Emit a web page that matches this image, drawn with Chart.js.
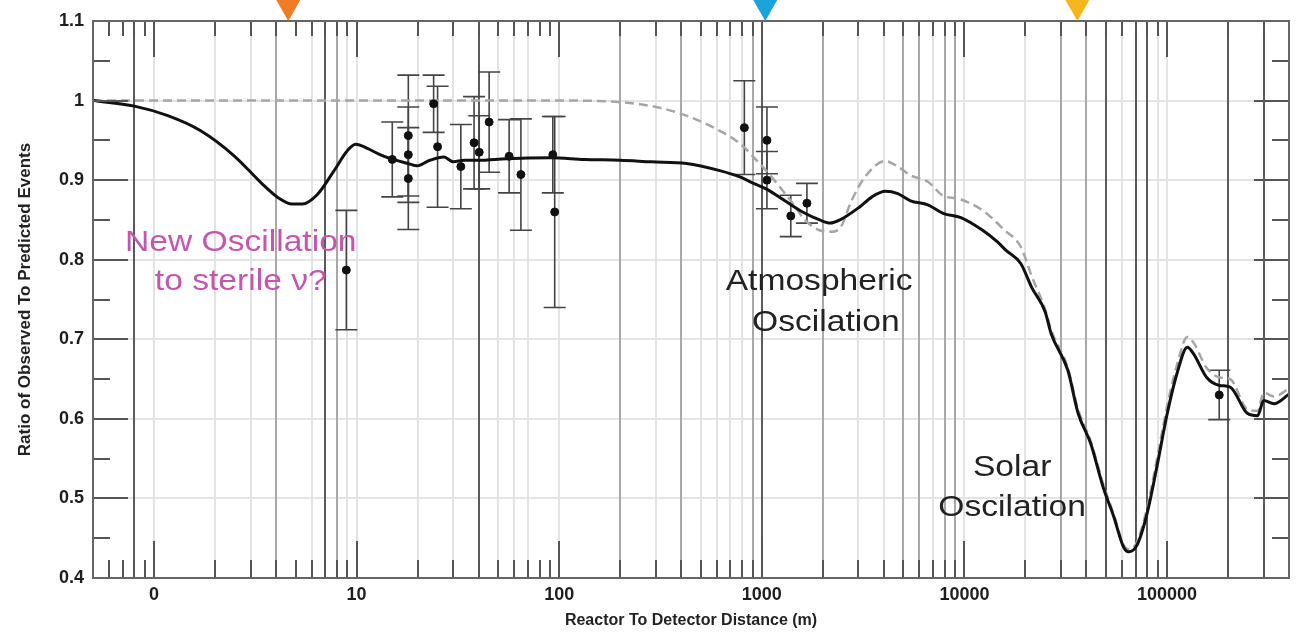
<!DOCTYPE html>
<html>
<head>
<meta charset="utf-8">
<script src="https://cdn.jsdelivr.net/npm/chart.js@4.4.1/dist/chart.umd.min.js"></script>
<style>
  html, body { margin: 0; padding: 0; background: #fff; }
  #wrap { width: 1297px; height: 635px; }
</style>
</head>
<body>
<div id="wrap"><canvas id="chart" width="1297" height="635"></canvas></div>
<script>
// --- Axis labels ---
const xTickValues = [1, 10, 100, 1000, 10000, 100000];
const xTickLabels = ['0', '10', '100', '1000', '10000', '100000'];
const yTickValues = [0.4, 0.5, 0.6, 0.7, 0.8, 0.9, 1.0, 1.1];
const yTickLabels = ['0.4', '0.5', '0.6', '0.7', '0.8', '0.9', '1', '1.1'];

// --- Solid curve (with sterile oscillation) ---
const fitDist = [0.5, 0.8, 1.17, 1.7, 2.5, 3.4, 4.1, 4.8, 5.4, 6.4, 7.7, 9.0, 9.9, 11.3, 12.8, 14.7, 17.9, 19.9,
  23, 27, 30, 34, 40, 55, 91, 133, 200, 285, 425, 620, 780, 910, 1050, 1300, 1590, 1930, 2170, 2430, 3030,
  3500, 4070, 4690, 5420, 6600, 7900, 9600, 12300, 14600, 16000, 19000, 21500, 25000, 26800, 32400, 36400,
  42000, 48400, 54600, 61000, 64700, 71000, 79700, 89000, 100300, 112000, 126000, 135000, 157000, 182000,
  205000, 249000, 280000, 300000, 337000, 400000];
const fitRatio = [1.0, 0.993, 0.981, 0.962, 0.930, 0.896, 0.878, 0.870, 0.870, 0.882, 0.911, 0.937, 0.945, 0.940, 0.933, 0.927, 0.921, 0.918,
  0.925, 0.929, 0.923, 0.925, 0.925, 0.927, 0.928, 0.926, 0.925, 0.923, 0.921, 0.912, 0.904, 0.896, 0.889, 0.874, 0.860, 0.850, 0.846, 0.850, 0.866,
  0.879, 0.886, 0.883, 0.874, 0.869, 0.858, 0.853, 0.837, 0.822, 0.812, 0.795, 0.765, 0.735, 0.707, 0.661, 0.607,
  0.569, 0.514, 0.477, 0.439, 0.433, 0.441, 0.481, 0.539, 0.607, 0.657, 0.690, 0.682, 0.652, 0.642,
  0.640, 0.607, 0.604, 0.623, 0.619, 0.631];

// --- Dashed curve (three flavours only) ---
const stdDist = [0.5, 10, 100, 200, 300, 425, 620, 780, 910, 1050, 1230, 1420, 1630, 1930, 2170, 2450, 2770, 3230,
  4070, 4690, 5420, 6600, 7900, 9200, 12300, 15800, 19000, 21500, 25000, 26800, 32400, 36400, 42000, 48400,
  54600, 61000, 64700, 71000, 79700, 89000, 100300, 112000, 126000, 135000, 157000, 182000, 205000, 249000,
  280000, 300000, 337000, 400000];
const stdRatio = [1.0, 1.0, 1.0, 0.998, 0.992, 0.981, 0.962, 0.946, 0.929, 0.912, 0.891, 0.871, 0.850, 0.837, 0.835, 0.841, 0.874, 0.904,
  0.924, 0.917, 0.906, 0.898, 0.880, 0.877, 0.862, 0.837, 0.816, 0.779, 0.738, 0.712, 0.664, 0.612, 0.572, 0.518,
  0.480, 0.442, 0.436, 0.445, 0.488, 0.548, 0.617, 0.668, 0.703, 0.696, 0.664, 0.652, 0.650, 0.612,
  0.610, 0.633, 0.628, 0.638];

// --- Reactor measurements ---
const obsDist = [8.9, 15.0, 18.0, 18.0, 18.0, 24.0, 25.1, 32.7, 38.0, 40.3, 45.1, 56.6, 64.7, 93, 95, 820, 1060, 1060, 1390, 1670, 181000];
const obsRatio = [0.787, 0.926, 0.956, 0.932, 0.902, 0.996, 0.942, 0.917, 0.947, 0.935, 0.973, 0.930, 0.907, 0.932, 0.860, 0.966, 0.950, 0.900, 0.855, 0.871, 0.630];
const obsErr = [0.075, 0.047, 0.076, 0.060, 0.064, 0.036, 0.076, 0.053, 0.058, 0.046, 0.063, 0.046, 0.070, 0.048, 0.120, 0.059, 0.042, 0.036, 0.026, 0.025, 0.031];

// --- Vertical distance lines (three shades) ---
const darkLines = [0.8, 7, 40, 1000, 50000, 70000, 80000, 200000, 300000];
const midLines = [4, 8, 200, 400, 900, 2000, 5000, 6000, 8000, 9000, 30000, 40000];
const lightLines = [1, 2, 3, 6, 9, 10, 20, 30, 50, 60, 70, 100, 300, 500, 600, 700, 800, 3000, 4000, 7000, 10000,
  20000, 60000, 90000, 100000];

// --- Coloured arrows on top edge ---
const markerDist = [4.6, 1040, 36100];
const markerColor = ['#f07c24', '#1ca3dc', '#f6b61d'];

// --- Text notes ---
const noteText = ['New Oscillation', 'to sterile ν?', 'Atmospheric', 'Oscilation', 'Solar', 'Oscilation'];
const noteDist = [2.68, 2.68, 1917, 2070, 17200, 17200];
const noteRatio = [0.821, 0.772, 0.772, 0.721, 0.538, 0.488];
const noteColor = ['#c655ac', '#c655ac', '#222', '#222', '#222', '#222'];

const X_MIN = 0.5, X_MAX = 400000;
const FONT = '"Liberation Sans", Arial, Helvetica, sans-serif';

// all log ticks 1..9 x 10^n inside the range
const logTicks = [];
for (let e = -1; e <= 5; e++) {
  for (let m = 1; m <= 9; m++) {
    const v = +(m * Math.pow(10, e)).toPrecision(6);
    if (v > X_MIN && v < X_MAX) logTicks.push(v);
  }
}

const toXY = (xs, ys) => xs.map((v, i) => ({ x: v, y: ys[i] }));

const decorations = {
  id: 'decorations',
  beforeDatasetsDraw(chart) {
    const { ctx, chartArea: a, scales: { x, y } } = chart;
    ctx.save();
    ctx.beginPath();
    ctx.rect(a.left, a.top, a.right - a.left, a.bottom - a.top);
    ctx.clip();

    const drawLines = (vals, color) => {
      ctx.strokeStyle = color;
      ctx.lineWidth = 2;
      vals.forEach(v => {
        const px = Math.round(x.getPixelForValue(v));
        ctx.beginPath();
        ctx.moveTo(px, a.top);
        ctx.lineTo(px, a.bottom);
        ctx.stroke();
      });
    };
    drawLines(lightLines, '#e3e3e3');
    drawLines(midLines, '#a8a8a8');
    drawLines(darkLines, '#5a5a5a');

    // error bars
    ctx.strokeStyle = '#444';
    ctx.lineWidth = 1.6;
    obsDist.forEach((d, i) => {
      const px = x.getPixelForValue(d);
      const top = y.getPixelForValue(obsRatio[i] + obsErr[i]);
      const bot = y.getPixelForValue(obsRatio[i] - obsErr[i]);
      ctx.beginPath();
      ctx.moveTo(px, top); ctx.lineTo(px, bot);
      ctx.moveTo(px - 11, top); ctx.lineTo(px + 11, top);
      ctx.moveTo(px - 11, bot); ctx.lineTo(px + 11, bot);
      ctx.stroke();
    });
    ctx.restore();
  },
  afterDatasetsDraw(chart) {
    const { ctx, chartArea: a, scales: { x, y } } = chart;
    ctx.save();

    // inward ticks, x on top and bottom
    ctx.strokeStyle = '#555';
    ctx.lineWidth = 2;
    logTicks.forEach(v => {
      const px = Math.round(x.getPixelForValue(v));
      const len = xTickValues.includes(v) ? 37 : 18;
      ctx.beginPath();
      ctx.moveTo(px, a.bottom); ctx.lineTo(px, a.bottom - len);
      ctx.moveTo(px, a.top); ctx.lineTo(px, a.top + (len === 37 ? 36 : 15));
      ctx.stroke();
    });
    // inward ticks, y on left and right
    for (let k = 9; k <= 21; k++) {
      const py = Math.round(y.getPixelForValue(k * 0.05));
      const len = k % 2 === 0 ? 35 : 17;
      ctx.beginPath();
      ctx.moveTo(a.left, py); ctx.lineTo(a.left + len, py);
      ctx.moveTo(a.right, py); ctx.lineTo(a.right - len, py);
      ctx.stroke();
    }

    // frame
    ctx.strokeStyle = '#666';
    ctx.lineWidth = 2;
    ctx.strokeRect(a.left, a.top, a.right - a.left, a.bottom - a.top);

    // coloured arrows
    markerDist.forEach((d, i) => {
      const px = x.getPixelForValue(d);
      ctx.fillStyle = markerColor[i];
      ctx.beginPath();
      ctx.moveTo(px - 12, 0);
      ctx.lineTo(px + 12, 0);
      ctx.lineTo(px, a.top);
      ctx.closePath();
      ctx.fill();
    });

    // text notes
    ctx.font = '30px ' + FONT;
    ctx.textAlign = 'center';
    ctx.textBaseline = 'middle';
    noteText.forEach((t, i) => {
      ctx.save();
      ctx.translate(x.getPixelForValue(noteDist[i]), y.getPixelForValue(noteRatio[i]));
      ctx.scale(1.12, 1);
      ctx.fillStyle = noteColor[i];
      ctx.fillText(t, 0, 0);
      ctx.restore();
    });
    ctx.restore();
  }
};

new Chart(document.getElementById('chart'), {
  type: 'scatter',
  data: {
    datasets: [
      {
        label: 'Measurements',
        data: toXY(obsDist, obsRatio),
        backgroundColor: '#111',
        borderColor: '#111',
        pointRadius: 4,
        showLine: false
      },
      {
        label: 'With sterile',
        data: toXY(fitDist, fitRatio),
        borderColor: '#111',
        borderWidth: 3,
        pointRadius: 0,
        showLine: true,
        cubicInterpolationMode: 'monotone'
      },
      {
        label: 'Three flavour',
        data: toXY(stdDist, stdRatio),
        borderColor: '#a6a6a6',
        borderWidth: 2.5,
        borderDash: [9, 5],
        pointRadius: 0,
        showLine: true,
        cubicInterpolationMode: 'monotone'
      }
    ]
  },
  options: {
    responsive: false,
    animation: false,
    devicePixelRatio: 1,
    layout: { padding: { top: 21, right: 8, left: 0, bottom: 0 } },
    plugins: {
      legend: { display: false },
      tooltip: { enabled: false }
    },
    scales: {
      x: {
        type: 'logarithmic',
        min: X_MIN,
        max: X_MAX,
        grid: { display: false, drawTicks: false },
        border: { display: false },
        afterBuildTicks: scale => {
          scale.ticks = xTickValues.map(v => ({ value: v }));
        },
        afterFit: scale => { scale.height = 57; },
        ticks: {
          autoSkip: false,
          maxRotation: 0,
          padding: 6,
          color: '#1e1e1e',
          font: { family: FONT, size: 18, weight: 'bold' },
          callback: v => {
            const i = xTickValues.indexOf(v);
            return i >= 0 ? xTickLabels[i] : '';
          }
        },
        title: {
          display: true,
          text: 'Reactor To Detector Distance (m)',
          color: '#222',
          font: { family: FONT, size: 16, weight: 'bold' },
          padding: { top: 0, bottom: 5 }
        }
      },
      y: {
        type: 'linear',
        min: 0.4,
        max: 1.1,
        grid: {
          drawTicks: false,
          lineWidth: 2,
          color: c => (c.tick && (Math.abs(c.tick.value - 0.4) < 1e-6 || Math.abs(c.tick.value - 1.1) < 1e-6)) ? 'rgba(0,0,0,0)' : '#e4e4e4'
        },
        border: { display: false },
        afterBuildTicks: scale => {
          scale.ticks = yTickValues.map(v => ({ value: v }));
        },
        afterFit: scale => { scale.width = 93; },
        ticks: {
          padding: 9,
          color: '#1e1e1e',
          font: { family: FONT, size: 18, weight: 'bold' },
          callback: v => {
            const i = yTickValues.findIndex(t => Math.abs(t - v) < 1e-6);
            return i >= 0 ? yTickLabels[i] : '';
          }
        },
        title: {
          display: true,
          text: 'Ratio of Observed To Predicted Events',
          color: '#222',
          font: { family: FONT, size: 17, weight: 'bold' },
          padding: { top: 15, bottom: 0 }
        }
      }
    }
  },
  plugins: [decorations]
});
</script>
</body>
</html>
